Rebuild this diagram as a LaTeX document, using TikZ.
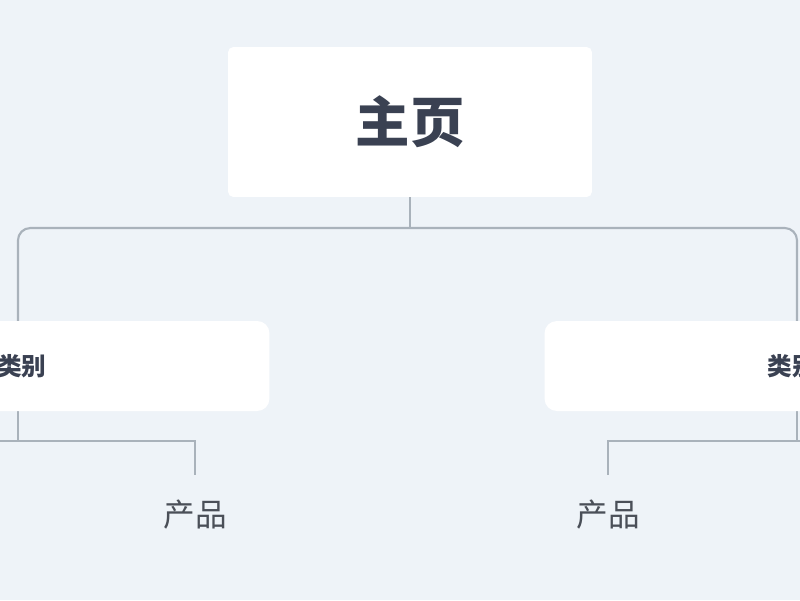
\documentclass[tikz,border=0pt]{standalone}
\usepackage{fontspec}
\newfontfamily\cjk{Noto Sans CJK SC}
\definecolor{bgcol}{HTML}{EEF3F8}
\definecolor{linecol}{HTML}{A9B2BB}
\definecolor{headcol}{HTML}{3A4152}
\definecolor{prodcol}{HTML}{4A4F58}
\tikzset{
  link/.style={draw=linecol, line width=1.2pt},
  mainbox/.style={fill=white, rounded corners=3pt, minimum width=7.28cm, minimum height=3cm,
    font=\cjk\bfseries\fontsize{31}{36}\selectfont, text=headcol},
  catbox/.style={fill=white, rounded corners=7pt, minimum width=9.9cm, minimum height=1.8cm,
    font=\cjk\bfseries\fontsize{14}{17}\selectfont, text=headcol},
  prodbox/.style={minimum height=1.6cm, font=\cjk\fontsize{18}{22}\selectfont, text=prodcol}
}
\begin{document}
\begin{tikzpicture}[x=0.02cm, y=-0.02cm]
  \useasboundingbox (0,0) rectangle (800,600);
  \fill[bgcol] (0,0) rectangle (800,600);
  \clip (0,0) rectangle (800,600);

  \coordinate (hubL) at (18,228);
  \coordinate (hubR) at (797,228);
  \coordinate (forkL) at (18,441);
  \coordinate (forkR) at (797,441);

  \node[prodbox] (prodL) at (195,515) {产品};
  \node[prodbox] (prodR) at (608,515) {产品};

  \draw[link, rounded corners=7pt] (18,330) -- (hubL) -- (hubR) -- (797,330);
  \draw[link] (18,400) -- (forkL);
  \draw[link] (0,441) -| (prodL.north);
  \draw[link] (797,400) -- (forkR);
  \draw[link] (800,441) -| (prodR.north);

  \node[mainbox] (main) at (410,122) {主页};
  \draw[link] (main.south) -- (main.south |- hubL);

  \node[catbox] (catL) at (22,366) {类别};
  \node[catbox] (catR) at (792,366) {类别};
\end{tikzpicture}
\end{document}
